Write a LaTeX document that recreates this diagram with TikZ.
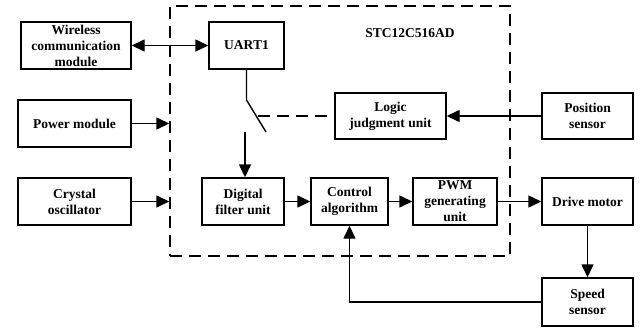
\documentclass[tikz,border=0pt]{standalone}
\usepackage{fontspec}
\setmainfont{Liberation Serif}
\usetikzlibrary{arrows.meta}
\begin{document}
\begin{tikzpicture}[x=1pt,y=-1pt,
  blk/.style={draw,line width=1.4pt,minimum width=#1,minimum height=47pt,inner sep=0pt,align=center,
    font=\fontsize{13.5}{16}\selectfont\bfseries},
  tip/.style={Triangle[length=13pt,width=12pt]},
  conn/.style={line width=1.4pt,-{Triangle[length=13pt,width=12pt]}},
  dsh/.style={line width=1.4pt,dash pattern=on 12pt off 7pt}]
\useasboundingbox (0,0) rectangle (640,327);
\node[draw,dsh,minimum width=340pt,minimum height=250pt,inner sep=0pt] (mcu) at (340,131) {};
\node[font=\fontsize{13.5}{16}\selectfont\bfseries] (title) at (410,33) {STC12C516AD};
\node[blk=110pt] (wifi) at (76,45.5) {Wireless\\communication\\module};
\node[blk=75pt] (uart) at (246.5,45.5) {UART1};
\node[blk=113pt] (power) at (74.5,123.5) {Power module};
\node[blk=113pt] (xtal) at (74.5,201.5) {Crystal\\oscillator};
\node[blk=111pt,minimum height=46pt] (logic) at (390.5,116) {Logic\\judgment unit};
\node[blk=91pt,minimum height=46pt] (pos) at (587.5,116) {Position\\sensor};
\node[blk=82pt] (filter) at (243,201.5) {Digital\\filter unit};
\node[blk=77pt] (ctrl) at (349.5,201.5) {Control\\algorithm};
\node[blk=84pt] (pwm) at (455,201.5) {PWM\\generating\\unit};
\node[blk=91pt] (drive) at (587.5,201.5) {Drive motor};
\node[blk=91pt,minimum height=48pt] (speed) at (587.5,302) {Speed\\sensor};
% connectors
\draw[line width=1.4pt,{Triangle[length=13pt,width=12pt]}-{Triangle[length=13pt,width=12pt]}] (wifi.east) -- (uart.west);
\draw[conn] (power.east) -- (mcu.west |- power.east);
\draw[conn] (xtal.east) -- (mcu.west |- xtal.east);
\coordinate (sw1) at (246.5,100);
\coordinate (sw2) at (266,132);
\coordinate (sw3) at (245,132);
\coordinate (swd) at (258,116);
\draw[line width=1.4pt] (uart.south) -- (sw1) -- (sw2);
\draw[dsh] (swd) -- (logic.west);
\draw[conn] (sw3) -- (sw3 |- filter.north);
\draw[conn] (pos.west) -- (logic.east);
\draw[conn] (filter.east) -- (ctrl.west);
\draw[conn] (ctrl.east) -- (pwm.west);
\draw[conn] (pwm.east) -- (drive.west);
\draw[conn] (drive.south) -- (speed.north);
\draw[conn] (speed.west) -| (ctrl.south);
\end{tikzpicture}
\end{document}
